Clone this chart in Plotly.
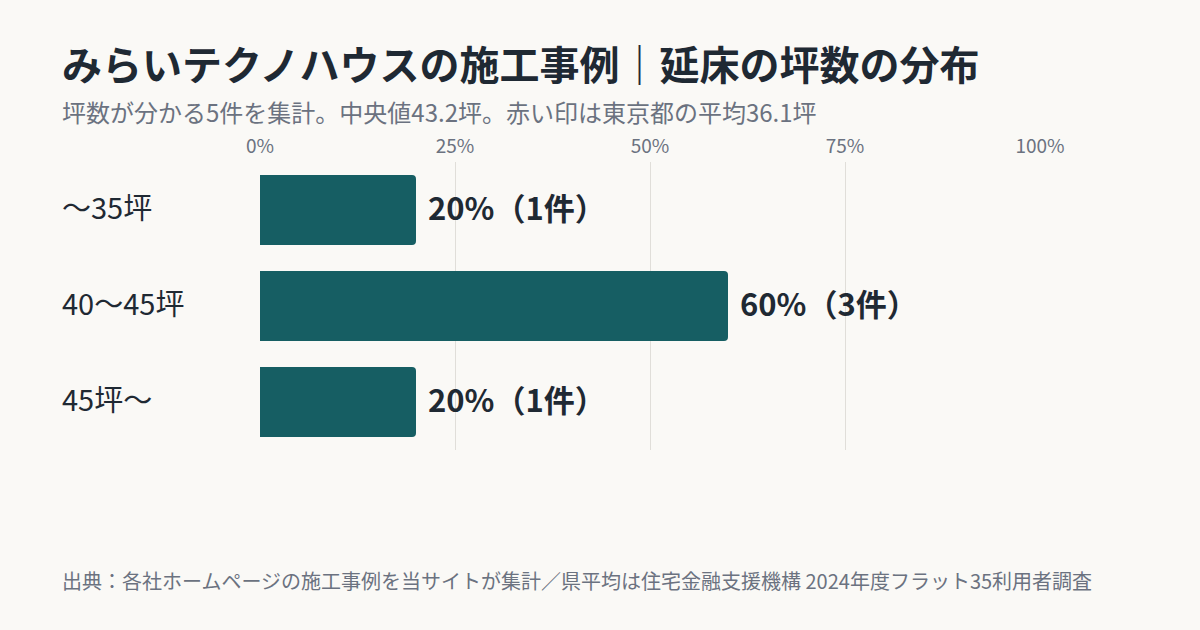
import plotly.graph_objects as go

categories = ["〜35坪", "40〜45坪", "45坪〜"]
shares = [20, 60, 20]
counts = [1, 3, 1]
tick_vals = [0, 25, 50, 75, 100]
tick_text = ["0%", "25%", "50%", "75%", "100%"]

title = "みらいテクノハウスの施工事例｜延床の坪数の分布"
subtitle = "坪数が分かる5件を集計。中央値43.2坪。赤い印は東京都の平均36.1坪"
source = "出典：各社ホームページの施工事例を当サイトが集計／県平均は住宅金融支援機構 2024年度フラット35利用者調査"

FONT = "Noto Sans CJK JP"
BG = "#faf9f6"
BAR = "#165e63"
DARK = "#1f2933"
GREY = "#6b7280"

# plot area: x 260..1040, y 162..450
PLOT_H = 288
LEFT = -200 / 780

fig = go.Figure(go.Bar(
    x=shares, y=categories, orientation="h",
    marker=dict(color=BAR, cornerradius=4, line=dict(width=0)),
    width=0.73, hoverinfo="skip",
))

for cat, s, c in zip(categories, shares, counts):
    # value label right of the bar
    fig.add_annotation(x=s, y=cat, text=f"<b>{s}%（{c}件）</b>", showarrow=False,
                       xanchor="left", xshift=10, yshift=4,
                       font=dict(family=FONT, size=31, color=DARK))
    # category label, left-aligned with the title
    fig.add_annotation(x=LEFT, xref="paper", y=cat, text=cat, showarrow=False,
                       xanchor="left", yshift=4, font=dict(family=FONT, size=29, color=DARK))

fig.add_annotation(text=f"<b>{title}</b>", xref="paper", yref="paper",
                   x=LEFT, y=1 + (162 - 63) / PLOT_H, xanchor="left", yanchor="middle",
                   showarrow=False, font=dict(family=FONT, size=40, color=DARK))
fig.add_annotation(text=subtitle, xref="paper", yref="paper",
                   x=LEFT, y=1 + (162 - 112) / PLOT_H, xanchor="left", yanchor="middle",
                   showarrow=False, font=dict(family=FONT, size=24, color=GREY))
fig.add_annotation(text=source, xref="paper", yref="paper",
                   x=LEFT, y=-(580 - 450) / PLOT_H, xanchor="left", yanchor="middle",
                   showarrow=False, font=dict(family=FONT, size=20, color=GREY))

fig.update_layout(
    width=1200, height=630,
    paper_bgcolor=BG, plot_bgcolor=BG,
    margin=dict(l=260, r=160, t=162, b=180),
    showlegend=False,
    font=dict(family=FONT),
    xaxis=dict(range=[0, 100], side="top", tickvals=tick_vals, ticktext=tick_text,
               showgrid=True, gridcolor="#e0ded9", gridwidth=1, zeroline=False,
               showline=False, ticks="", tickfont=dict(family=FONT, size=19, color=GREY),
               ticklabelstandoff=4, fixedrange=True),
    yaxis=dict(autorange="reversed", showticklabels=False, showgrid=False,
               zeroline=False, fixedrange=True),
)

fig.write_html("out.html", config={"displayModeBar": False},
               post_script="document.body.style.margin='0';")
